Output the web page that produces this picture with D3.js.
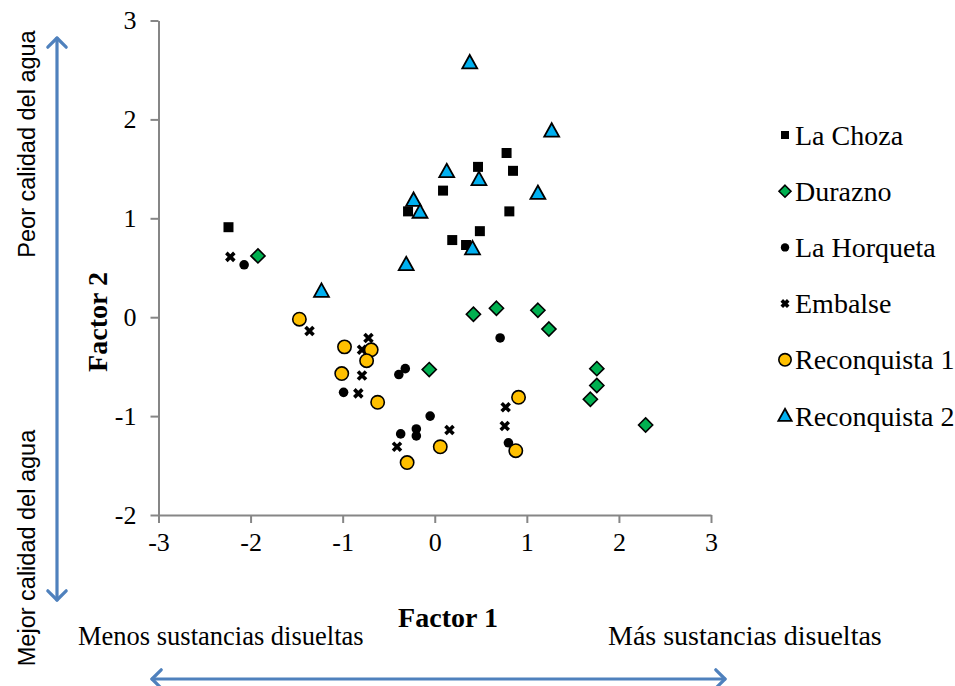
<!DOCTYPE html>
<html>
<head>
<meta charset="utf-8">
<script src="https://cdn.jsdelivr.net/npm/d3@7"></script>
<style>
  html, body { margin: 0; padding: 0; background: #fff; }
  svg { display: block; }
</style>
</head>
<body>
<svg id="chart" width="955" height="686"></svg>
<script>
// ---- data ----
const seriesNames = ["La Choza", "Durazno", "La Horqueta", "Embalse", "Reconquista 1", "Reconquista 2"];
const xTicks = [-3, -2, -1, 0, 1, 2, 3];
const yTicks = [-2, -1, 0, 1, 2, 3];

const laChoza = [[-2.24, 0.91], [0.78, 1.66], [0.47, 1.52], [0.85, 1.48], [0.09, 1.28],
                 [-0.29, 1.07], [0.81, 1.07], [0.49, 0.87], [0.19, 0.78], [0.34, 0.73]];
const durazno = [[-1.92, 0.62], [0.42, 0.03], [0.67, 0.09], [1.12, 0.07], [1.24, -0.12],
                 [-0.06, -0.53], [1.76, -0.52], [1.76, -0.69], [1.69, -0.83], [2.29, -1.09]];
const laHorqueta = [[-2.07, 0.53], [0.71, -0.21], [-0.32, -0.52], [-0.39, -0.58], [-0.99, -0.76],
                    [-0.05, -1.00], [-0.20, -1.13], [-0.20, -1.20], [-0.37, -1.18], [0.80, -1.27]];
const embalse = [[-2.22, 0.61], [-1.36, -0.14], [-0.72, -0.21], [-0.79, -0.33], [-0.79, -0.59],
                 [-0.83, -0.77], [0.16, -1.14], [-0.41, -1.31], [0.77, -0.91], [0.76, -1.10]];
const reconquista1 = [[-1.47, -0.02], [-0.98, -0.30], [-0.69, -0.33], [-0.74, -0.44], [-1.01, -0.57],
                      [-0.62, -0.86], [0.06, -1.31], [-0.30, -1.47], [0.91, -0.81], [0.88, -1.35]];
const reconquista2 = [[0.38, 2.57], [1.27, 1.88], [0.13, 1.47], [0.48, 1.39], [1.12, 1.25],
                      [-0.23, 1.18], [-0.16, 1.06], [0.41, 0.69], [-0.31, 0.53], [-1.23, 0.26]];

const xTitle = "Factor 1";
const yTitle = "Factor 2";
const annoLeftTop = "Peor calidad del agua";
const annoLeftBottom = "Mejor calidad del agua";
const annoBottomLeft = "Menos sustancias disueltas";
const annoBottomRight = "Más sustancias disueltas";

// ---- styles ----
const serif = "'Liberation Serif', 'Times New Roman', serif";
const sans = "'Liberation Sans', Arial, sans-serif";
const axisColor = "#868686";
const arrowColor = "#4F81BD";

// custom symbol types
const symSquare = { draw(ctx, s) { const h = Math.sqrt(s) / 2; ctx.rect(-h, -h, 2 * h, 2 * h); } };
const symDiamond = { draw(ctx, s) { const r = Math.sqrt(s / 2); ctx.moveTo(0, -r); ctx.lineTo(r, 0); ctx.lineTo(0, r); ctx.lineTo(-r, 0); ctx.closePath(); } };
const symCircle = { draw(ctx, s) { const r = Math.sqrt(s / Math.PI); ctx.moveTo(r, 0); ctx.arc(0, 0, r, 0, 2 * Math.PI); } };
const symTriangle = { draw(ctx, s) { const w = Math.sqrt(s * 2 / 0.9); const h = w * 0.9; ctx.moveTo(0, -h * 0.6); ctx.lineTo(w / 2, h * 0.4); ctx.lineTo(-w / 2, h * 0.4); ctx.closePath(); } };
const symCross = { draw(ctx, s) { const r = Math.sqrt(s) / 2; ctx.moveTo(-r, -r); ctx.lineTo(r, r); ctx.moveTo(r, -r); ctx.lineTo(-r, r); } };

const series = [
  { name: seriesNames[0], data: laChoza,      type: symSquare,   size: 100, lsize: 64,  fill: "#000",    stroke: "none", sw: 0 },
  { name: seriesNames[1], data: durazno,      type: symDiamond,  size: 100, lsize: 72,  fill: "#00B050", stroke: "#000", sw: 1.6 },
  { name: seriesNames[2], data: laHorqueta,   type: symCircle,   size: 72,  lsize: 56,  fill: "#000",    stroke: "none", sw: 0 },
  { name: seriesNames[3], data: embalse,      type: symCross,    size: 64,  lsize: 42,  fill: "none",    stroke: "#000", sw: 3.6 },
  { name: seriesNames[4], data: reconquista1, type: symCircle,   size: 140, lsize: 120, fill: "#FFC000", stroke: "#000", sw: 1.6 },
  { name: seriesNames[5], data: reconquista2, type: symTriangle, size: 100, lsize: 80,  fill: "#00B0F0", stroke: "#000", sw: 1.8 }
];

const svg = d3.select("#chart");

const x = d3.scaleLinear().domain([-3, 3]).range([158.5, 711]);
const y = d3.scaleLinear().domain([-2, 3]).range([515, 20.5]);

// axes
const xAxis = svg.append("g").attr("transform", `translate(0,${y(-2)})`)
  .call(d3.axisBottom(x).tickValues(xTicks).tickSize(8).tickSizeOuter(0).tickPadding(10).tickFormat(d => String(d)));
const yAxis = svg.append("g").attr("transform", `translate(${x(-3)},0)`)
  .call(d3.axisLeft(y).tickValues(yTicks).tickSize(8).tickSizeOuter(0).tickPadding(14).tickFormat(d => String(d)));

[xAxis, yAxis].forEach(g => {
  g.select(".domain").attr("stroke", axisColor).attr("stroke-width", 2);
  g.selectAll(".tick line").attr("stroke", axisColor).attr("stroke-width", 2);
  g.selectAll(".tick text").attr("fill", "#000").style("font-family", serif).style("font-size", "26px");
});

// points
series.forEach(s => {
  svg.append("g").selectAll("path").data(s.data).join("path")
    .attr("transform", d => `translate(${x(d[0])},${y(d[1])})`)
    .attr("d", d3.symbol().type(s.type).size(s.size))
    .attr("fill", s.fill).attr("stroke", s.stroke).attr("stroke-width", s.sw)
    .attr("stroke-linejoin", "miter");
});

// legend
const legend = svg.append("g").attr("transform", "translate(785,135)");
series.forEach((s, i) => {
  const row = legend.append("g").attr("transform", `translate(0,${i * 56.2})`);
  row.append("path").attr("d", d3.symbol().type(s.type).size(s.lsize)())
    .attr("fill", s.fill).attr("stroke", s.stroke).attr("stroke-width", s.sw);
  row.append("text").attr("x", 10).attr("y", 9.5)
    .style("font-family", serif).style("font-size", "28px").text(s.name);
});

// axis titles
svg.append("text").attr("x", 448).attr("y", 627).attr("text-anchor", "middle")
  .style("font-family", serif).style("font-size", "28px").style("font-weight", "bold").text(xTitle);
svg.append("text").attr("transform", "translate(107,322) rotate(-90)").attr("text-anchor", "middle")
  .style("font-family", serif).style("font-size", "28px").style("font-weight", "bold").text(yTitle);

// annotations
svg.append("text").attr("x", 78).attr("y", 645)
  .style("font-family", serif).style("font-size", "26.5px").text(annoBottomLeft);
svg.append("text").attr("x", 608).attr("y", 645)
  .style("font-family", serif).style("font-size", "28px").text(annoBottomRight);
svg.append("text").attr("transform", "translate(35,144) rotate(-90)").attr("text-anchor", "middle")
  .style("font-family", sans).style("font-size", "23.5px").text(annoLeftTop);
svg.append("text").attr("transform", "translate(35,548) rotate(-90)").attr("text-anchor", "middle")
  .style("font-family", sans).style("font-size", "23.5px").text(annoLeftBottom);

// double arrows
function dblArrow(x1, y1, x2, y2) {
  const g = svg.append("g").attr("stroke", arrowColor).attr("stroke-width", 3.2).attr("fill", "none")
    .attr("stroke-linecap", "round").attr("stroke-linejoin", "round");
  g.append("line").attr("x1", x1).attr("y1", y1).attr("x2", x2).attr("y2", y2);
  const ang = Math.atan2(y2 - y1, x2 - x1);
  const L = 13, spread = Math.PI / 4;
  [[x1, y1, ang], [x2, y2, ang + Math.PI]].forEach(([px, py, a]) => {
    const p1 = [px + L * Math.cos(a - spread), py + L * Math.sin(a - spread)];
    const p2 = [px + L * Math.cos(a + spread), py + L * Math.sin(a + spread)];
    g.append("path").attr("d", `M${p1[0]},${p1[1]}L${px},${py}L${p2[0]},${p2[1]}`);
  });
}
dblArrow(57, 38, 57, 600);
dblArrow(152, 679, 725, 679);
</script>
</body>
</html>
